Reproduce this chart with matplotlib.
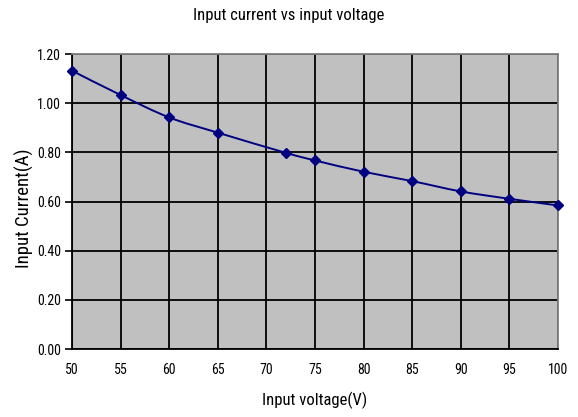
import matplotlib
matplotlib.use("Agg")
import matplotlib.pyplot as plt
from matplotlib.path import Path
from matplotlib.patches import PathPatch
import numpy as np

plt.rcParams['font.family'] = ['Roboto Condensed', 'Liberation Sans', 'DejaVu Sans']

voltage = [50, 55, 60, 65, 72, 75, 80, 85, 90, 95, 100]
current = [1.132, 1.033, 0.942, 0.880, 0.798, 0.767, 0.721, 0.683, 0.641, 0.611, 0.584]
x_ticks = [50, 55, 60, 65, 70, 75, 80, 85, 90, 95, 100]
y_ticks = [0.00, 0.20, 0.40, 0.60, 0.80, 1.00, 1.20]

fig = plt.figure(figsize=(5.78, 4.17), dpi=100)
ax = fig.add_axes([0.1246, 0.163, 0.8408, 0.7075])
ax.set_facecolor('#C0C0C0')
ax.set_xlim(50, 100)
ax.set_ylim(0, 1.2)
ax.set_xticks(x_ticks)
ax.set_yticks(y_ticks)
ax.set_yticklabels([f"{v:.2f}" for v in y_ticks])
ax.grid(True, color='black', linewidth=1.3)
ax.set_axisbelow(True)
ax.tick_params(axis='y', length=5, width=1.2, direction='out', labelsize=10, pad=3)
ax.tick_params(axis='x', length=0, labelsize=10, pad=10)
for s in ['left', 'bottom']:
    ax.spines[s].set_color('black')
    ax.spines[s].set_linewidth(1.3)
for s in ['top', 'right']:
    ax.spines[s].set_color('#808080')
    ax.spines[s].set_linewidth(1.3)

# smooth (Catmull-Rom as cubic Bezier) line through the data points
x = np.array(voltage, dtype=float)
y = np.array(current, dtype=float)
verts = [(x[0], y[0])]
codes = [Path.MOVETO]
n = len(x)
for i in range(n - 1):
    p0 = (x[i - 1], y[i - 1]) if i > 0 else (x[i], y[i])
    p1 = (x[i], y[i])
    p2 = (x[i + 1], y[i + 1])
    p3 = (x[i + 2], y[i + 2]) if i + 2 < n else (x[i + 1], y[i + 1])
    c1 = (p1[0] + (p2[0] - p0[0]) / 6, p1[1] + (p2[1] - p0[1]) / 6)
    c2 = (p2[0] - (p3[0] - p1[0]) / 6, p2[1] - (p3[1] - p1[1]) / 6)
    verts += [c1, c2, p2]
    codes += [Path.CURVE4] * 3
ax.add_patch(PathPatch(Path(verts, codes), facecolor='none', edgecolor='#000080',
                       linewidth=1.4, clip_on=False, zorder=3))
ax.plot(voltage, current, linestyle='none', marker='D', markersize=5.5,
        color='#000080', clip_on=False, zorder=4)

fig.text(0.5, 0.963, 'Input current vs input voltage', ha='center', va='center', fontsize=12)
ax.set_xlabel('Input voltage(V)', fontsize=12, labelpad=11)
ax.set_ylabel('Input Current(A)', fontsize=13.5, labelpad=3)
ax.yaxis.set_label_coords(-0.078, 0.478)

fig.savefig('out.png', dpi=100)
